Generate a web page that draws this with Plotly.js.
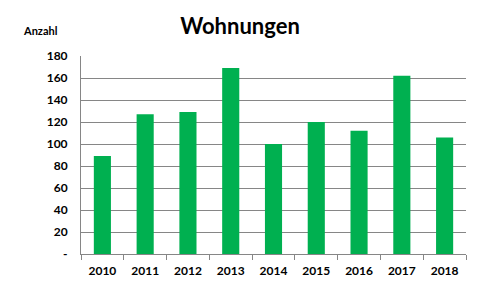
<!DOCTYPE html>
<html>
<head>
<meta charset="utf-8">
<script src="https://cdn.plot.ly/plotly-3.0.1.min.js"></script>
<style>html,body{margin:0;padding:0;background:#fff;}#chart{width:480px;height:288px;}</style>
</head>
<body>
<div id="chart"></div>
<script>
var years = ["2010","2011","2012","2013","2014","2015","2016","2017","2018"];
var wohnungen = [89, 127, 129, 169, 100, 120, 112, 162, 106];
var yTickVals = [0, 20, 40, 60, 80, 100, 120, 140, 160, 180];
var yTickText = ["-", "20", "40", "60", "80", "100", "120", "140", "160", "180"];

var fontFam = "Lato, 'Liberation Sans', sans-serif";

Plotly.newPlot("chart", [{
  type: "bar",
  x: years,
  y: wohnungen,
  marker: {color: "#00B050"},
  hoverinfo: "none"
}], {
  width: 480, height: 288,
  margin: {l: 81, r: 14, t: 56, b: 34},
  paper_bgcolor: "#fff", plot_bgcolor: "#fff",
  bargap: 0.6,
  showlegend: false,
  title: {text: "<b>Wohnungen</b>", x: 0.5, xref: "container", xanchor: "center", y: 0.91, yref: "container", yanchor: "middle",
          font: {family: fontFam, size: 22, color: "#000"}},
  xaxis: {
    type: "category",
    showline: true, linecolor: "#868686", linewidth: 1,
    ticks: "outside", tickson: "boundaries", ticklen: 5, tickcolor: "#868686",
    showgrid: false, ticklabelstandoff: 6,
    tickfont: {family: fontFam, size: 12, color: "#000", weight: "bold"}
  },
  yaxis: {
    range: [0, 180],
    tickmode: "array", tickvals: yTickVals, ticktext: yTickText,
    showgrid: true, gridcolor: "#868686", gridwidth: 1,
    showline: true, linecolor: "#868686", linewidth: 1,
    ticks: "", ticklabelstandoff: 10,
    zeroline: false,
    tickfont: {family: fontFam, size: 12, color: "#000", weight: "bold"}
  },
  annotations: [{
    text: "<b>Anzahl</b>", xref: "paper", yref: "paper", x: -0.106, y: 1.13,
    xanchor: "center", yanchor: "middle", showarrow: false,
    font: {family: fontFam, size: 11, color: "#000"}
  }]
}, {staticPlot: true});
</script>
</body>
</html>
